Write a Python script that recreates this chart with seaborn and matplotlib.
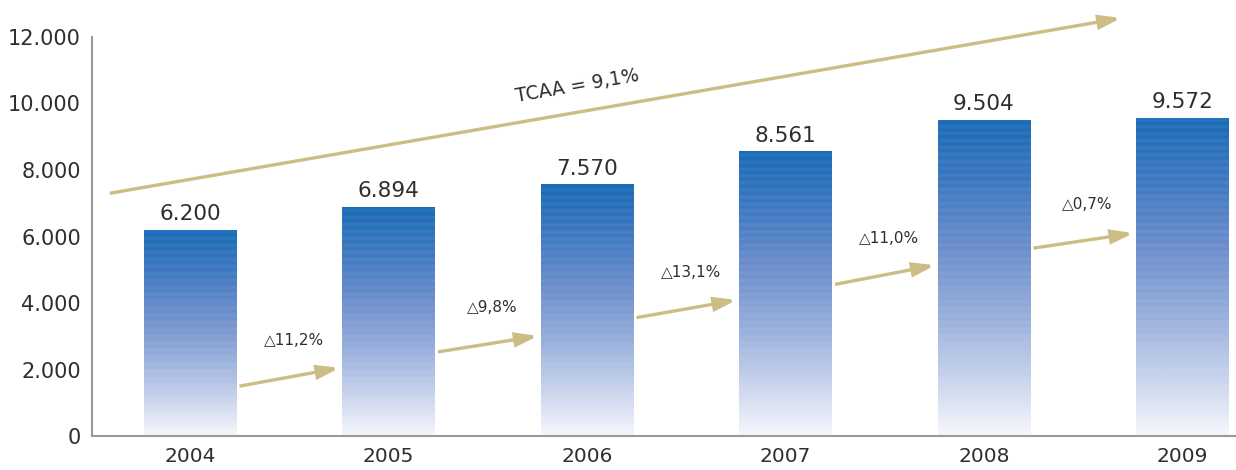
import numpy as np
import pandas as pd
import matplotlib
matplotlib.use('Agg')
import matplotlib.pyplot as plt
import seaborn as sns
from matplotlib.colors import LinearSegmentedColormap

# data
years = ['2004', '2005', '2006', '2007', '2008', '2009']
values = [6200, 6894, 7570, 8561, 9504, 9572]
value_labels = ['6.200', '6.894', '7.570', '8.561', '9.504', '9.572']
growth_labels = ['△11,2%', '△9,8%', '△13,1%', '△11,0%', '△0,7%']
# heights where the small arrows start and end
arrow_start = [1500, 2530, 3560, 4560, 5650]
arrow_end = [2050, 3010, 4090, 5140, 6100]
# overall trend arrow
trend_start = 7300
trend_end = 12570
trend_label = 'TCAA = 9,1%'

gold = '#cbbd84'
txt = '#2e2e2e'

df = pd.DataFrame({'year': years, 'value': values})

sns.set_style('white')
fig = plt.figure(figsize=(12.36, 4.70), dpi=100)
ax = fig.add_axes([0.0744, 0.0723, 0.9256, 0.849])

sns.barplot(data=df, x='year', y='value', width=0.465, color='#4f7fc2', ax=ax)

# gradient with faint horizontal stripes inside each bar
cmap = LinearSegmentedColormap.from_list(
    'bar', ['#f6f7fc', '#c3cfea', '#93abd8', '#6b8dca', '#3f78bf', '#1a6ab3'])
for patch in ax.patches:
    x0, w, h = patch.get_x(), patch.get_width(), patch.get_height()
    n = 400
    t = np.linspace(0, 1, n)
    stripe = (np.sin(t * h / 12000 * 400 * 2 * np.pi / 7) > 0) * 0.035 * t
    rgb = cmap(t)[:, :3]
    rgb = np.clip(rgb + stripe[:, None], 0, 1)
    img = np.repeat(rgb[:, None, :], 2, axis=1)
    patch.set_facecolor('none')
    patch.set_edgecolor('none')
    im = ax.imshow(img, extent=[x0, x0 + w, 0, h], origin='lower',
                   aspect='auto', interpolation='bilinear', zorder=2)
    im.set_clip_path(patch)

for i, (v, lab) in enumerate(zip(values, value_labels)):
    ax.annotate(lab, (i, v), xytext=(0, 4), textcoords='offset points',
                ha='center', va='bottom', fontsize=15.5, color=txt)

arrow_kw = dict(arrowstyle='-|>,head_length=1.3,head_width=0.4', lw=2.4,
                color=gold, shrinkA=0, shrinkB=0, joinstyle='miter',
                capstyle='butt')

# small growth arrows between bars
for i, lab in enumerate(growth_labels):
    xa, xb = i + 0.25, i + 0.755
    ax.annotate('', xy=(xb, arrow_end[i]), xytext=(xa, arrow_start[i]),
                arrowprops=arrow_kw, zorder=3)
    ax.text((xa + xb) / 2 + 0.02, (arrow_start[i] + arrow_end[i]) / 2 + 1090,
            lab, ha='center', va='center', fontsize=11, color=txt)

# trend arrow
ax.annotate('', xy=(4.693, trend_end), xytext=(-0.403, trend_start),
            arrowprops=arrow_kw, annotation_clip=False, zorder=3)
ax.text(1.95, 10530, trend_label, rotation=9.8, ha='center', va='center',
        fontsize=13.5, color=txt, rotation_mode='anchor')

ax.set_xlim(-0.493, 5.27)
ax.set_ylim(0, 12000)
ax.set_yticks(range(0, 12001, 2000))
ax.set_yticklabels(['0', '2.000', '4.000', '6.000', '8.000', '10.000', '12.000'])
ax.set_xlabel('')
ax.set_ylabel('')
ax.tick_params(axis='y', length=0, pad=8, labelsize=15, labelcolor=txt)
ax.tick_params(axis='x', length=0, pad=8, labelsize=14.5, labelcolor=txt)
for s in ['top', 'right']:
    ax.spines[s].set_visible(False)
for s in ['left', 'bottom']:
    ax.spines[s].set_color('#9a9a9a')
    ax.spines[s].set_linewidth(1.5)

fig.savefig('out.png', dpi=100)
